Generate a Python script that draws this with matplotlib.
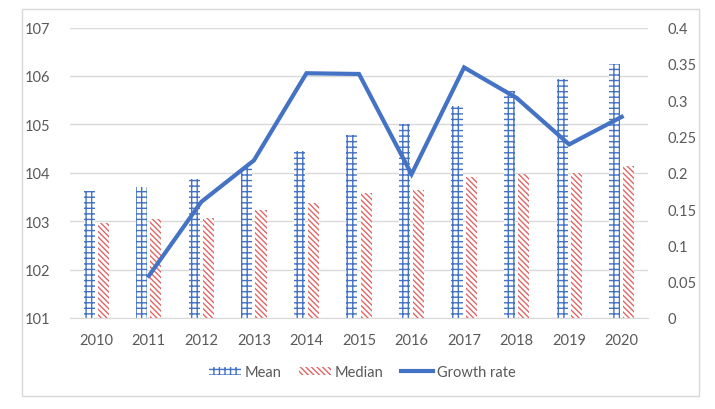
import matplotlib
matplotlib.use("Agg")
import matplotlib.pyplot as plt
import numpy as np
from matplotlib.patches import Rectangle
from matplotlib.lines import Line2D

years = ["2010", "2011", "2012", "2013", "2014", "2015",
         "2016", "2017", "2018", "2019", "2020"]
mean_vals = [103.63, 103.71, 103.87, 104.09, 104.45, 104.79,
             105.01, 105.38, 105.69, 105.93, 106.24]
median_vals = [102.97, 103.04, 103.07, 103.23, 103.37, 103.58,
               103.65, 103.92, 103.97, 104.00, 104.14]
growth_years = years[1:]
growth_vals = [0.058, 0.160, 0.217, 0.337, 0.336, 0.198,
               0.345, 0.303, 0.239, 0.277]

BLUE = "#4472C4"
RED = "#E06666"
GRID = "#D9D9D9"
TXT = "#595959"

plt.rcParams["font.family"] = ["Lato", "DejaVu Sans"]
plt.rcParams["hatch.linewidth"] = 1.0

fig = plt.figure(figsize=(7.15, 4.10), dpi=100)
fig.patches.append(Rectangle((22 / 715, 1 - 397 / 410), 677 / 715, 387 / 410,
                             transform=fig.transFigure, fill=False,
                             edgecolor="#D9D9D9", linewidth=1))
ax1 = fig.add_axes([70 / 715, 1 - 319 / 410, 578 / 715, 290.5 / 410])

x = np.arange(len(years))
w = 0.21
off = 0.135
ax1.bar(x - off, np.array(mean_vals) - 101, w, bottom=101,
        facecolor="white", edgecolor=BLUE, hatch="+++", linewidth=0)
ax1.bar(x + off, np.array(median_vals) - 101, w, bottom=101,
        facecolor="white", edgecolor=RED, hatch="\\\\\\\\\\\\", linewidth=0)

ax1.set_ylim(101, 107)
ax1.set_xlim(-0.5, len(years) - 0.5)
ax1.set_yticks(range(101, 108))
ax1.set_xticks(x)
ax1.set_xticklabels(years)
ax1.yaxis.grid(True, color=GRID, linewidth=1)
ax1.set_axisbelow(True)
for s in ["left", "right", "top"]:
    ax1.spines[s].set_visible(False)
ax1.spines["bottom"].set_color(GRID)
ax1.tick_params(axis="both", length=0, labelsize=10.5, labelcolor=TXT)
ax1.tick_params(axis="y", pad=14)
ax1.tick_params(axis="x", pad=11)

ax2 = ax1.twinx()
gx = [years.index(y) for y in growth_years]
ax2.plot(gx, growth_vals, color=BLUE, linewidth=3, solid_joinstyle="miter")
ax2.set_ylim(0, 0.4)
ax2.set_yticks(np.arange(0, 0.41, 0.05))
ax2.set_yticklabels(["0", "0.05", "0.1", "0.15", "0.2", "0.25", "0.3", "0.35", "0.4"])
for s in ax2.spines.values():
    s.set_visible(False)
ax2.tick_params(axis="y", length=0, labelsize=10.5, labelcolor=TXT, pad=14)

handles = [
    Rectangle((0, 0), 1, 1, facecolor="white", edgecolor=BLUE, hatch="+++", linewidth=0),
    Rectangle((0, 0), 1, 1, facecolor="white", edgecolor=RED, hatch="\\\\\\\\\\\\", linewidth=0),
    Line2D([0], [0], color=BLUE, linewidth=3),
]
fig.legend(handles, ["Mean", "Median", "Growth rate"], loc="center",
           bbox_to_anchor=(362 / 715, 1 - 373 / 410), ncol=3, frameon=False,
           fontsize=10.5, labelcolor=TXT, handlelength=2.2, handleheight=0.5,
           handletextpad=0.25, columnspacing=1.2)

fig.savefig("out.png", dpi=100)
